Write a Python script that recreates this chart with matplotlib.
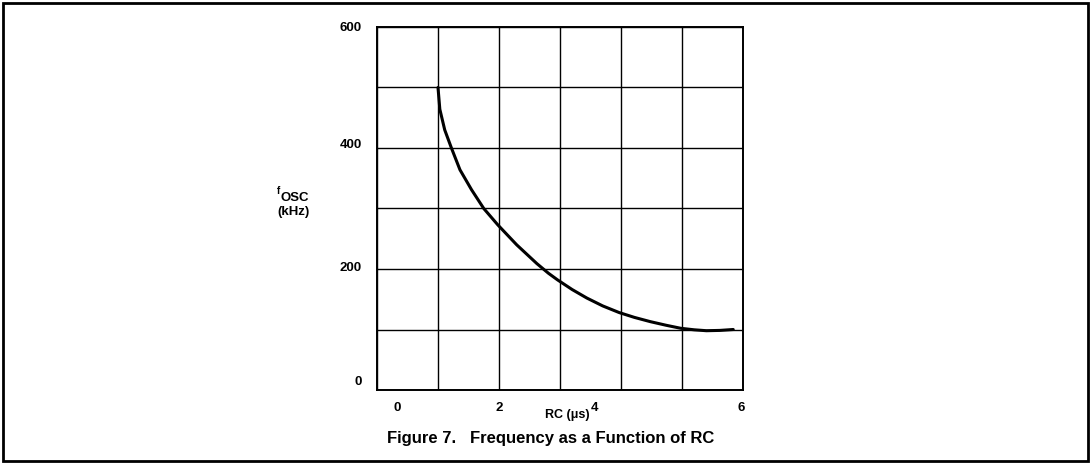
#!/usr/bin/env python

import numpy as np
import matplotlib.pyplot as plt
from matplotlib.patches import Rectangle

# curve
rc_us = [1.0, 1.03, 1.11, 1.22, 1.36, 1.55, 1.75, 1.98, 2.29, 2.62, 2.81, 2.96,
         3.2, 3.44, 3.7, 3.97, 4.22, 4.48, 4.74, 4.98, 5.2, 5.4, 5.62, 5.84]
f_khz = [500, 464, 430, 400, 364, 331, 300, 273, 240, 209, 193, 182,
         166, 152, 139, 128, 120, 113, 107, 102, 99.5, 98, 98.5, 100]

x_labels = ['0', '2', '4', '6']
y_labels = ['0', '200', '400', '600']

plt.rcParams['font.family'] = ['Liberation Sans', 'DejaVu Sans']
plt.rcParams['font.weight'] = 'bold'

W, H = 1091, 463
fig = plt.figure(figsize=(W / 100, H / 100), dpi=100)
fig.patch.set_facecolor('white')

# outer frame
fig.patches.append(Rectangle((3 / W, 2 / H), 1 - 6 / W, 1 - 5 / H, transform=fig.transFigure,
                             fill=False, edgecolor='black', linewidth=2))

ax = fig.add_axes([377 / W, 73 / H, 366 / W, 363 / H])
ax.set_xlim(0, 6)
ax.set_ylim(0, 600)
ax.set_xticks(np.arange(0, 7, 1))
ax.set_yticks(np.arange(0, 700, 100))
ax.set_xticklabels([])
ax.set_yticklabels([])
ax.tick_params(length=0)
ax.grid(True, color='black', linewidth=1.0)
for s in ax.spines.values():
  s.set_linewidth(1.4)

ax.plot(rc_us, f_khz, color='black', linewidth=2.2, solid_capstyle='round', solid_joinstyle='round')

# the scanned labels don't sit exactly on the grid lines
xl_pos = [0.33, 2.0, 3.57, 5.97]
yl_pos = [13, 202, 405, 598]
for p, t in zip(xl_pos, x_labels):
  ax.text(p, -30, t, ha='center', va='center', fontsize=9.5, fontweight='bold')
for p, t in zip(yl_pos, y_labels):
  ax.text(-0.25, p, t, ha='right', va='center', fontsize=9.5, fontweight='bold')

fig.text(567 / W, 1 - 415 / H, 'RC (\u03bcs)', ha='center', va='center', fontsize=9, fontweight='bold')
fig.text(277 / W, 1 - 191 / H, 'f', ha='left', va='center', fontsize=7, fontweight='bold')
fig.text(295 / W, 1 - 198 / H, 'OSC', ha='center', va='center', fontsize=9.5, fontweight='bold')
fig.text(293 / W, 1 - 212 / H, '(kHz)', ha='center', va='center', fontsize=9.5, fontweight='bold')
fig.text(551 / W, 1 - 438 / H, 'Figure 7.   Frequency as a Function of RC', ha='center', va='center',
         fontsize=12, fontweight='bold')

fig.savefig('out.png', dpi=100)
